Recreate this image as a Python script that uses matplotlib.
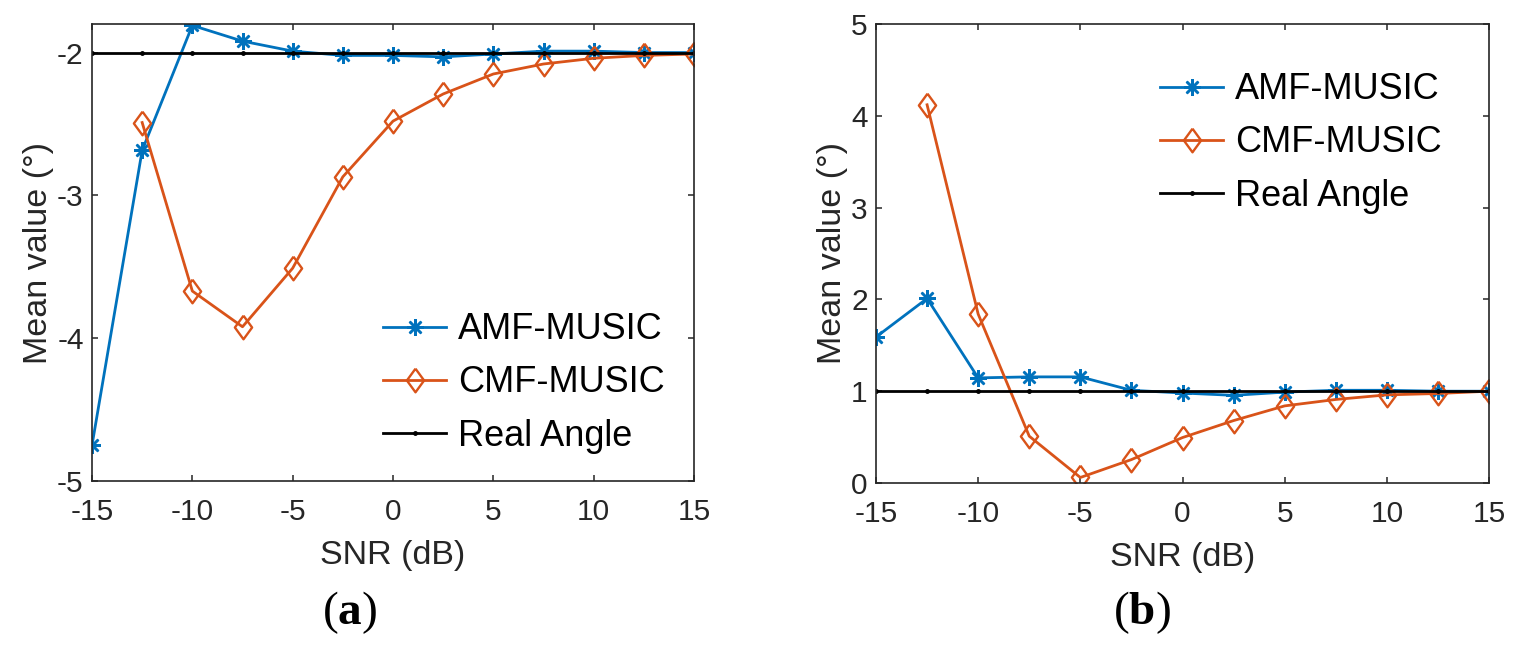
import numpy as np
import matplotlib
matplotlib.use("Agg")
import matplotlib.pyplot as plt

plt.rcParams['font.family'] = ['Liberation Sans', 'DejaVu Sans']
plt.rcParams['axes.unicode_minus'] = False
plt.rcParams['mathtext.fontset'] = 'custom'
plt.rcParams['mathtext.bf'] = 'Liberation Serif:bold'
plt.rcParams['mathtext.rm'] = 'Liberation Serif'

# SNR points (dB)
snr = [-15, -12.5, -10, -7.5, -5, -2.5, 0, 2.5, 5, 7.5, 10, 12.5, 15]

# panel (a)
amf_a = [-4.75, -2.685, -1.81, -1.92, -1.99, -2.02, -2.02, -2.03, -2.01, -1.99, -1.99, -2.00, -2.00]
cmf_a = [np.nan, -2.49, -3.67, -3.92, -3.51, -2.87, -2.48, -2.29, -2.15, -2.08, -2.04, -2.02, -2.01]
real_a = [-2] * 13

# panel (b)
amf_b = [1.59, 2.01, 1.145, 1.156, 1.156, 1.01, 0.98, 0.955, 0.99, 1.01, 1.01, 1.0, 1.0]
cmf_b = [np.nan, 4.12, 1.84, 0.51, 0.06, 0.255, 0.495, 0.68, 0.84, 0.91, 0.96, 0.975, 1.0]
real_b = [1] * 13

labels = ['AMF-MUSIC', 'CMF-MUSIC', 'Real Angle']
blue = '#0072BD'
orange = '#D95319'
dark = '#262626'

# MATLAB-like marker shapes
asterisk = (8, 2, 0)
diamond = [(0, 1), (0.73, 0), (0, -1), (-0.73, 0), (0, 1)]

W, H = 1521, 652
fig = plt.figure(figsize=(W / 100, H / 100), dpi=100)

def px_box(x0, y0, x1, y1):
    # pixel box (top-left origin) -> figure fraction
    return [x0 / W, 1 - y1 / H, (x1 - x0) / W, (y1 - y0) / H]

ax1 = fig.add_axes(px_box(92, 24, 694, 481))
ax2 = fig.add_axes(px_box(876, 24, 1489, 483))

def draw(ax, amf, cmf, real, ylim, yticks, leg_xy):
    ax.plot(snr, amf, color=blue, lw=2.0, marker=asterisk, ms=12, mew=1.8, label=labels[0])
    ax.plot(snr, cmf, color=orange, lw=2.0, marker=diamond, ms=17, mew=1.7,
            mfc='none', label=labels[1])
    ax.plot(snr, real, color='black', lw=2.0, marker='.', ms=5, label=labels[2])
    ax.set_xlim(-15, 15)
    ax.set_ylim(*ylim)
    ax.set_xticks([-15, -10, -5, 0, 5, 10, 15])
    ax.set_yticks(yticks)
    ax.tick_params(direction='in', top=True, right=True, length=4.5, width=1.1,
                   colors=dark, labelsize=21.5, pad=12)
    ax.tick_params(axis='y', pad=6)
    for s in ax.spines.values():
        s.set_linewidth(1.2)
        s.set_color(dark)
    ax.set_xlabel('SNR (dB)', fontsize=24.5, color=dark, labelpad=10)
    ax.set_ylabel('Mean value (°)', fontsize=24.5, color=dark, labelpad=2)
    ax.legend(loc='center left', bbox_to_anchor=(leg_xy[0] / W, 1 - leg_xy[1] / H),
              bbox_transform=fig.transFigure, frameon=False, fontsize=26,
              borderpad=0, borderaxespad=0, handlelength=1.75, handletextpad=0.33,
              labelspacing=0.5)

draw(ax1, amf_a, cmf_a, real_a, (-5, -1.8), [-5, -4, -3, -2], (383, 383))
draw(ax2, amf_b, cmf_b, real_b, (0, 5), [0, 1, 2, 3, 4, 5], (1160, 143))

fig.text(350 / W, 1 - 613 / H, r'($\mathbf{a}$)', ha='center', va='center',
         fontsize=34, family='Liberation Serif', color='black')
fig.text(1142 / W, 1 - 613 / H, r'($\mathbf{b}$)', ha='center', va='center',
         fontsize=34, family='Liberation Serif', color='black')

fig.savefig('out.png', dpi=100)
